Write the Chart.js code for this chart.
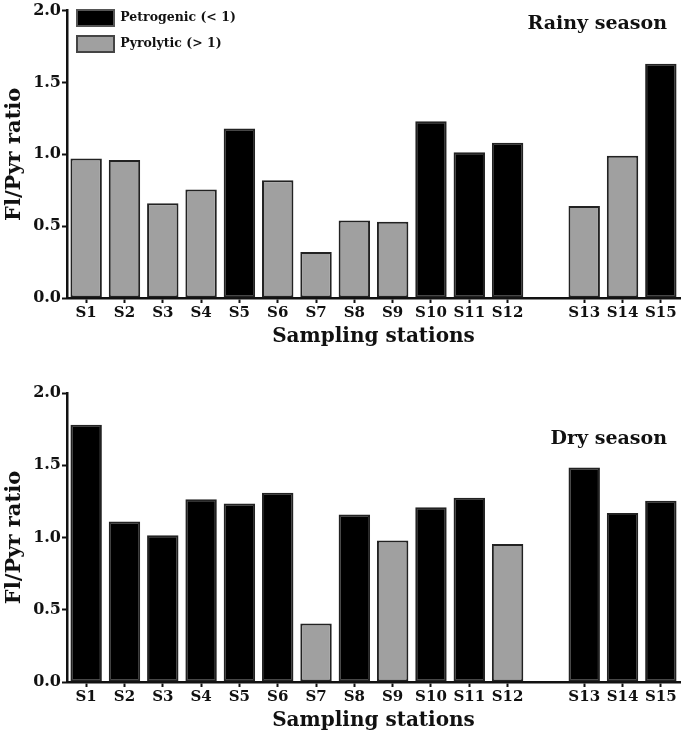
<!DOCTYPE html>
<html>
<head>
<meta charset="utf-8">
<script src="https://cdn.jsdelivr.net/npm/chart.js@4.4.0/dist/chart.umd.min.js"></script>
<style>
body { margin: 0; background: #fff; }
canvas { display: block; }
</style>
</head>
<body>
<canvas id="rainyChart" width="685" height="368"></canvas>
<canvas id="dryChart" width="685" height="368"></canvas>
<script>
const stations = ['S1', 'S2', 'S3', 'S4', 'S5', 'S6', 'S7', 'S8', 'S9', 'S10', 'S11', 'S12', 'S13', 'S14', 'S15'];
const rainyRatio = [0.97, 0.96, 0.66, 0.755, 1.18, 0.82, 0.32, 0.54, 0.53, 1.23, 1.015, 1.08, 0.64, 0.99, 1.63];
const dryRatio = [1.78, 1.11, 1.015, 1.265, 1.235, 1.31, 0.405, 1.16, 0.98, 1.21, 1.275, 0.955, 1.485, 1.17, 1.255];
const yTicks = [0, 0.5, 1.0, 1.5, 2.0];
const legendLabels = ['Petrogenic (< 1)', 'Pyrolytic (> 1)'];
const gapAfter = 'S12';

const BLACK = '#000000';
const GREY = '#a0a0a0';
const INK = '#111111';
const FONT = '"DejaVu Serif", "Liberation Serif", serif';

// blank slot between S12 and S13, like the original figure
function withGap(arr, filler) {
    const i = stations.indexOf(gapAfter) + 1;
    return arr.slice(0, i).concat([filler], arr.slice(i));
}
const labels = withGap(stations, '');

const seasonLabel = {
    id: 'seasonLabel',
    afterDraw(chart, args, opts) {
        const { ctx, chartArea } = chart;
        ctx.save();
        ctx.font = 'bold 19px ' + FONT;
        ctx.fillStyle = INK;
        ctx.textAlign = 'right';
        ctx.textBaseline = 'alphabetic';
        ctx.fillText(opts.text, chartArea.right - 13, chartArea.top + opts.dy);
        ctx.restore();
    }
};

function makeChart(id, values, season, dy, showLegend, padTop, padBottom) {
    const data = withGap(values, null);
    const ctx = document.getElementById(id).getContext('2d');
    return new Chart(ctx, {
        type: 'bar',
        data: {
            labels: labels,
            datasets: [{
                label: season,
                data: data,
                backgroundColor: data.map(v => v > 1 ? BLACK : GREY),
                borderColor: '#222222',
                borderWidth: 2,
                borderSkipped: false,
                categoryPercentage: 1,
                barPercentage: 0.82
            }]
        },
        options: {
            responsive: false,
            animation: false,
            layout: { padding: { left: 0, right: 5, top: padTop, bottom: padBottom } },
            scales: {
                x: {
                    offset: true,
                    grid: {
                        offset: false,
                        drawOnChartArea: false,
                        drawTicks: true,
                        tickLength: 5,
                        tickWidth: 2,
                        tickColor: c => labels[c.index] ? INK : 'rgba(0,0,0,0)'
                    },
                    border: { display: true, color: INK, width: 2.5 },
                    ticks: {
                        color: INK,
                        font: { family: FONT, weight: 'bold', size: 15 },
                        padding: 1,
                        maxRotation: 0,
                        autoSkip: false
                    },
                    title: {
                        display: true,
                        text: 'Sampling stations',
                        color: INK,
                        font: { family: FONT, weight: 'bold', size: 20 },
                        padding: 0
                    },
                    afterFit: s => { s.height = 51; }
                },
                y: {
                    min: 0,
                    max: 2,
                    afterBuildTicks: s => { s.ticks = yTicks.map(v => ({ value: v })); },
                    grid: {
                        drawOnChartArea: false,
                        tickLength: 5,
                        tickWidth: 2,
                        color: INK
                    },
                    border: { display: true, color: INK, width: 2.5 },
                    ticks: {
                        color: INK,
                        font: { family: FONT, weight: 'bold', size: 16 },
                        padding: 1,
                        callback: v => Number(v).toFixed(1)
                    },
                    title: {
                        display: true,
                        text: 'Fl/Pyr ratio',
                        color: INK,
                        font: { family: FONT, weight: 'bold', size: 21 },
                        padding: { top: 2, bottom: 0 }
                    },
                    afterFit: s => { s.width = 67; }
                }
            },
            plugins: {
                tooltip: { enabled: false },
                legend: {
                    display: showLegend,
                    position: 'chartArea',
                    align: 'start',
                    labels: {
                        boxWidth: 37,
                        boxHeight: 16,
                        padding: 10,
                        color: INK,
                        font: { family: FONT, weight: 'bold', size: 12.5 },
                        generateLabels: () => [
                            { text: legendLabels[0], fillStyle: BLACK, strokeStyle: '#555555', lineWidth: 2, fontColor: INK },
                            { text: legendLabels[1], fillStyle: GREY, strokeStyle: '#444444', lineWidth: 2, fontColor: INK }
                        ]
                    }
                },
                seasonLabel: { text: season, dy: dy }
            }
        },
        plugins: [seasonLabel]
    });
}

makeChart('rainyChart', rainyRatio, 'Rainy season', 18, true, 10, 19);
makeChart('dryChart', dryRatio, 'Dry season', 51, false, 25, 3);
</script>
</body>
</html>
